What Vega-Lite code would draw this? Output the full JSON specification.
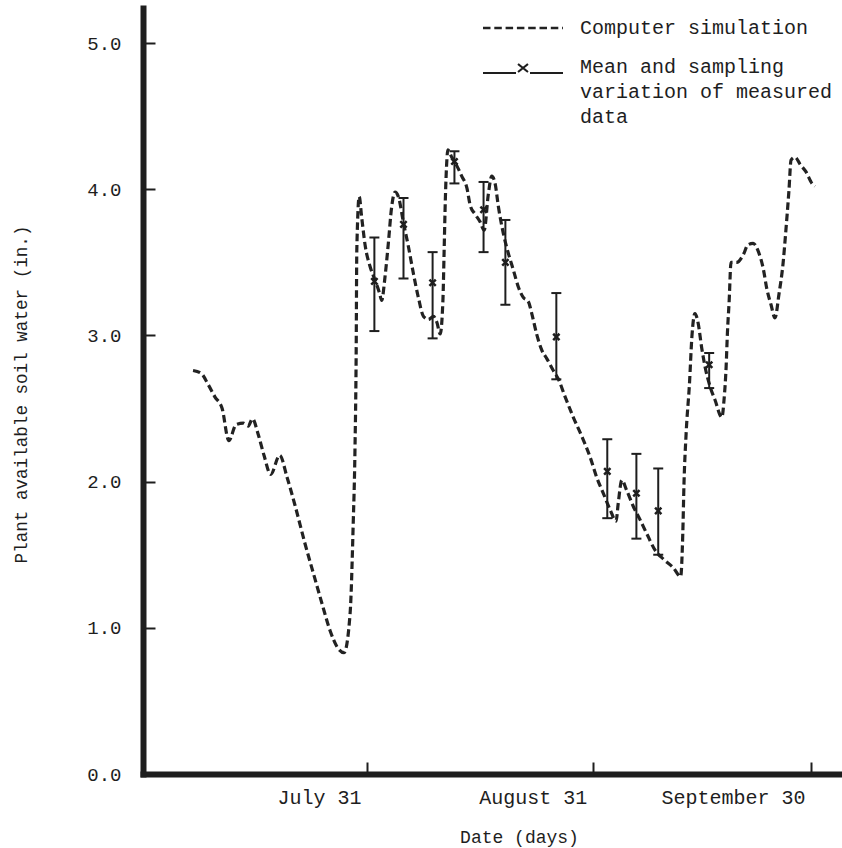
{
  "$schema": "https://vega.github.io/schema/vega-lite/v6.json",
  "width": 699,
  "height": 766,
  "autosize": {"type": "none"},
  "padding": {"left": 143, "top": 8, "right": 0, "bottom": 74},
  "background": "white",
  "config": {
    "view": {"stroke": null},
    "font": "Liberation Mono",
    "style": {"guide-label": {"lineHeight": 25}},
    "axis": {
      "grid": false,
      "domainColor": "#1e1e1e",
      "domainWidth": 6,
      "domainCap": "square",
      "tickColor": "#1e1e1e",
      "tickWidth": 2,
      "tickSize": -12,
      "labelFont": "Liberation Mono",
      "labelColor": "#1e1e1e",
      "titleFont": "Liberation Mono",
      "titleColor": "#1e1e1e",
      "titleFontWeight": "normal"
    },
    "legend": {
      "orient": "none",
      "padding": 0,
      "offset": 0,
      "symbolSize": 100,
      "labelFont": "Liberation Mono",
      "labelFontSize": 20,
      "labelColor": "#1e1e1e",
      "labelLimit": 0,
      "labelOffset": 47
    }
  },
  "resolve": {"scale": {"strokeDash": "independent"}, "legend": {"strokeDash": "independent"}},
  "datasets": {
    "sim": [
      {"date": "2023-07-07T02:00Z", "water": 2.76, "series": "Computer simulation"},
      {"date": "2023-07-08T05:00Z", "water": 2.74, "series": "Computer simulation"},
      {"date": "2023-07-09T05:00Z", "water": 2.66, "series": "Computer simulation"},
      {"date": "2023-07-10T02:00Z", "water": 2.58, "series": "Computer simulation"},
      {"date": "2023-07-11T02:00Z", "water": 2.50, "series": "Computer simulation"},
      {"date": "2023-07-12T00:00Z", "water": 2.28, "series": "Computer simulation"},
      {"date": "2023-07-13T00:00Z", "water": 2.39, "series": "Computer simulation"},
      {"date": "2023-07-14T00:00Z", "water": 2.40, "series": "Computer simulation"},
      {"date": "2023-07-14T16:00Z", "water": 2.38, "series": "Computer simulation"},
      {"date": "2023-07-15T06:00Z", "water": 2.43, "series": "Computer simulation"},
      {"date": "2023-07-16T00:00Z", "water": 2.33, "series": "Computer simulation"},
      {"date": "2023-07-16T20:00Z", "water": 2.18, "series": "Computer simulation"},
      {"date": "2023-07-17T18:00Z", "water": 2.05, "series": "Computer simulation"},
      {"date": "2023-07-19T00:00Z", "water": 2.18, "series": "Computer simulation"},
      {"date": "2023-07-20T00:00Z", "water": 2.03, "series": "Computer simulation"},
      {"date": "2023-07-21T02:00Z", "water": 1.84, "series": "Computer simulation"},
      {"date": "2023-07-22T12:00Z", "water": 1.57, "series": "Computer simulation"},
      {"date": "2023-07-23T18:00Z", "water": 1.35, "series": "Computer simulation"},
      {"date": "2023-07-24T20:00Z", "water": 1.16, "series": "Computer simulation"},
      {"date": "2023-07-25T22:00Z", "water": 0.98, "series": "Computer simulation"},
      {"date": "2023-07-27T00:00Z", "water": 0.86, "series": "Computer simulation"},
      {"date": "2023-07-27T20:00Z", "water": 0.83, "series": "Computer simulation"},
      {"date": "2023-07-28T16:00Z", "water": 1.10, "series": "Computer simulation"},
      {"date": "2023-07-29T02:00Z", "water": 1.70, "series": "Computer simulation"},
      {"date": "2023-07-29T08:00Z", "water": 2.22, "series": "Computer simulation"},
      {"date": "2023-07-29T12:00Z", "water": 2.90, "series": "Computer simulation"},
      {"date": "2023-07-29T14:00Z", "water": 3.58, "series": "Computer simulation"},
      {"date": "2023-07-29T22:00Z", "water": 3.95, "series": "Computer simulation"},
      {"date": "2023-07-30T06:00Z", "water": 3.81, "series": "Computer simulation"},
      {"date": "2023-07-30T18:00Z", "water": 3.61, "series": "Computer simulation"},
      {"date": "2023-07-31T10:00Z", "water": 3.47, "series": "Computer simulation"},
      {"date": "2023-08-01T02:00Z", "water": 3.38, "series": "Computer simulation"},
      {"date": "2023-08-01T17:00Z", "water": 3.29, "series": "Computer simulation"},
      {"date": "2023-08-02T00:00Z", "water": 3.24, "series": "Computer simulation"},
      {"date": "2023-08-02T11:00Z", "water": 3.40, "series": "Computer simulation"},
      {"date": "2023-08-02T22:00Z", "water": 3.63, "series": "Computer simulation"},
      {"date": "2023-08-03T09:00Z", "water": 3.88, "series": "Computer simulation"},
      {"date": "2023-08-03T20:00Z", "water": 3.98, "series": "Computer simulation"},
      {"date": "2023-08-04T07:00Z", "water": 3.95, "series": "Computer simulation"},
      {"date": "2023-08-05T00:00Z", "water": 3.77, "series": "Computer simulation"},
      {"date": "2023-08-05T16:00Z", "water": 3.61, "series": "Computer simulation"},
      {"date": "2023-08-06T09:00Z", "water": 3.42, "series": "Computer simulation"},
      {"date": "2023-08-07T01:00Z", "water": 3.26, "series": "Computer simulation"},
      {"date": "2023-08-07T18:00Z", "water": 3.13, "series": "Computer simulation"},
      {"date": "2023-08-08T10:00Z", "water": 3.11, "series": "Computer simulation"},
      {"date": "2023-08-09T03:00Z", "water": 3.13, "series": "Computer simulation"},
      {"date": "2023-08-09T14:00Z", "water": 3.09, "series": "Computer simulation"},
      {"date": "2023-08-10T01:00Z", "water": 3.01, "series": "Computer simulation"},
      {"date": "2023-08-10T10:00Z", "water": 3.24, "series": "Computer simulation"},
      {"date": "2023-08-10T14:00Z", "water": 3.58, "series": "Computer simulation"},
      {"date": "2023-08-10T18:00Z", "water": 3.93, "series": "Computer simulation"},
      {"date": "2023-08-10T23:00Z", "water": 4.20, "series": "Computer simulation"},
      {"date": "2023-08-11T02:00Z", "water": 4.27, "series": "Computer simulation"},
      {"date": "2023-08-11T15:00Z", "water": 4.22, "series": "Computer simulation"},
      {"date": "2023-08-12T08:00Z", "water": 4.16, "series": "Computer simulation"},
      {"date": "2023-08-13T00:00Z", "water": 4.09, "series": "Computer simulation"},
      {"date": "2023-08-13T17:00Z", "water": 4.01, "series": "Computer simulation"},
      {"date": "2023-08-14T04:00Z", "water": 3.89, "series": "Computer simulation"},
      {"date": "2023-08-14T20:00Z", "water": 3.83, "series": "Computer simulation"},
      {"date": "2023-08-15T12:00Z", "water": 3.78, "series": "Computer simulation"},
      {"date": "2023-08-16T02:00Z", "water": 3.72, "series": "Computer simulation"},
      {"date": "2023-08-16T16:00Z", "water": 3.97, "series": "Computer simulation"},
      {"date": "2023-08-17T03:00Z", "water": 4.09, "series": "Computer simulation"},
      {"date": "2023-08-17T14:00Z", "water": 4.04, "series": "Computer simulation"},
      {"date": "2023-08-18T01:00Z", "water": 3.88, "series": "Computer simulation"},
      {"date": "2023-08-18T17:00Z", "water": 3.70, "series": "Computer simulation"},
      {"date": "2023-08-19T10:00Z", "water": 3.56, "series": "Computer simulation"},
      {"date": "2023-08-20T02:00Z", "water": 3.45, "series": "Computer simulation"},
      {"date": "2023-08-20T19:00Z", "water": 3.33, "series": "Computer simulation"},
      {"date": "2023-08-21T11:00Z", "water": 3.26, "series": "Computer simulation"},
      {"date": "2023-08-22T04:00Z", "water": 3.23, "series": "Computer simulation"},
      {"date": "2023-08-22T15:00Z", "water": 3.15, "series": "Computer simulation"},
      {"date": "2023-08-23T07:00Z", "water": 3.01, "series": "Computer simulation"},
      {"date": "2023-08-24T00:00Z", "water": 2.90, "series": "Computer simulation"},
      {"date": "2023-08-24T17:00Z", "water": 2.84, "series": "Computer simulation"},
      {"date": "2023-08-25T14:00Z", "water": 2.76, "series": "Computer simulation"},
      {"date": "2023-08-26T07:00Z", "water": 2.70, "series": "Computer simulation"},
      {"date": "2023-08-27T05:00Z", "water": 2.58, "series": "Computer simulation"},
      {"date": "2023-08-28T08:00Z", "water": 2.44, "series": "Computer simulation"},
      {"date": "2023-08-29T12:00Z", "water": 2.31, "series": "Computer simulation"},
      {"date": "2023-08-30T15:00Z", "water": 2.17, "series": "Computer simulation"},
      {"date": "2023-08-31T13:00Z", "water": 2.03, "series": "Computer simulation"},
      {"date": "2023-09-01T11:00Z", "water": 1.92, "series": "Computer simulation"},
      {"date": "2023-09-02T09:00Z", "water": 1.81, "series": "Computer simulation"},
      {"date": "2023-09-03T05:00Z", "water": 1.73, "series": "Computer simulation"},
      {"date": "2023-09-03T12:00Z", "water": 1.85, "series": "Computer simulation"},
      {"date": "2023-09-04T00:00Z", "water": 2.01, "series": "Computer simulation"},
      {"date": "2023-09-04T16:00Z", "water": 1.94, "series": "Computer simulation"},
      {"date": "2023-09-05T14:00Z", "water": 1.83, "series": "Computer simulation"},
      {"date": "2023-09-06T12:00Z", "water": 1.74, "series": "Computer simulation"},
      {"date": "2023-09-07T10:00Z", "water": 1.645, "series": "Computer simulation"},
      {"date": "2023-09-08T14:00Z", "water": 1.53, "series": "Computer simulation"},
      {"date": "2023-09-09T17:00Z", "water": 1.47, "series": "Computer simulation"},
      {"date": "2023-09-11T02:00Z", "water": 1.41, "series": "Computer simulation"},
      {"date": "2023-09-12T02:00Z", "water": 1.35, "series": "Computer simulation"},
      {"date": "2023-09-12T09:00Z", "water": 1.645, "series": "Computer simulation"},
      {"date": "2023-09-12T13:00Z", "water": 1.99, "series": "Computer simulation"},
      {"date": "2023-09-12T20:00Z", "water": 2.33, "series": "Computer simulation"},
      {"date": "2023-09-13T07:00Z", "water": 2.67, "series": "Computer simulation"},
      {"date": "2023-09-13T15:00Z", "water": 2.99, "series": "Computer simulation"},
      {"date": "2023-09-14T01:00Z", "water": 3.15, "series": "Computer simulation"},
      {"date": "2023-09-14T12:00Z", "water": 3.08, "series": "Computer simulation"},
      {"date": "2023-09-14T23:00Z", "water": 2.92, "series": "Computer simulation"},
      {"date": "2023-09-15T10:00Z", "water": 2.79, "series": "Computer simulation"},
      {"date": "2023-09-16T03:00Z", "water": 2.65, "series": "Computer simulation"},
      {"date": "2023-09-16T19:00Z", "water": 2.56, "series": "Computer simulation"},
      {"date": "2023-09-17T18:00Z", "water": 2.44, "series": "Computer simulation"},
      {"date": "2023-09-18T01:00Z", "water": 2.56, "series": "Computer simulation"},
      {"date": "2023-09-18T08:00Z", "water": 2.79, "series": "Computer simulation"},
      {"date": "2023-09-18T12:00Z", "water": 3.01, "series": "Computer simulation"},
      {"date": "2023-09-18T18:00Z", "water": 3.24, "series": "Computer simulation"},
      {"date": "2023-09-19T00:00Z", "water": 3.50, "series": "Computer simulation"},
      {"date": "2023-09-19T19:00Z", "water": 3.50, "series": "Computer simulation"},
      {"date": "2023-09-20T16:00Z", "water": 3.55, "series": "Computer simulation"},
      {"date": "2023-09-21T08:00Z", "water": 3.62, "series": "Computer simulation"},
      {"date": "2023-09-22T01:00Z", "water": 3.63, "series": "Computer simulation"},
      {"date": "2023-09-22T17:00Z", "water": 3.58, "series": "Computer simulation"},
      {"date": "2023-09-23T10:00Z", "water": 3.46, "series": "Computer simulation"},
      {"date": "2023-09-23T23:00Z", "water": 3.31, "series": "Computer simulation"},
      {"date": "2023-09-24T12:00Z", "water": 3.21, "series": "Computer simulation"},
      {"date": "2023-09-25T01:00Z", "water": 3.12, "series": "Computer simulation"},
      {"date": "2023-09-25T14:00Z", "water": 3.28, "series": "Computer simulation"},
      {"date": "2023-09-26T04:00Z", "water": 3.50, "series": "Computer simulation"},
      {"date": "2023-09-26T13:00Z", "water": 3.72, "series": "Computer simulation"},
      {"date": "2023-09-26T23:00Z", "water": 3.99, "series": "Computer simulation"},
      {"date": "2023-09-27T06:00Z", "water": 4.20, "series": "Computer simulation"},
      {"date": "2023-09-27T19:00Z", "water": 4.22, "series": "Computer simulation"},
      {"date": "2023-09-28T12:00Z", "water": 4.17, "series": "Computer simulation"},
      {"date": "2023-09-29T07:00Z", "water": 4.12, "series": "Computer simulation"},
      {"date": "2023-09-30T03:00Z", "water": 4.04, "series": "Computer simulation"},
      {"date": "2023-09-30T13:00Z", "water": 4.02, "series": "Computer simulation"}
    ],
    "measured": [
      {"date": "2023-08-01", "lo": 3.03, "mean": 3.37, "hi": 3.67, "series": "Mean and sampling variation of measured data"},
      {"date": "2023-08-05", "lo": 3.39, "mean": 3.76, "hi": 3.94, "series": "Mean and sampling variation of measured data"},
      {"date": "2023-08-09", "lo": 2.98, "mean": 3.36, "hi": 3.57, "series": "Mean and sampling variation of measured data"},
      {"date": "2023-08-12", "lo": 4.04, "mean": 4.19, "hi": 4.26, "series": "Mean and sampling variation of measured data"},
      {"date": "2023-08-16", "lo": 3.57, "mean": 3.86, "hi": 4.05, "series": "Mean and sampling variation of measured data"},
      {"date": "2023-08-19", "lo": 3.21, "mean": 3.50, "hi": 3.79, "series": "Mean and sampling variation of measured data"},
      {"date": "2023-08-26", "lo": 2.70, "mean": 2.99, "hi": 3.29, "series": "Mean and sampling variation of measured data"},
      {"date": "2023-09-02", "lo": 1.75, "mean": 2.07, "hi": 2.29, "series": "Mean and sampling variation of measured data"},
      {"date": "2023-09-06", "lo": 1.61, "mean": 1.92, "hi": 2.19, "series": "Mean and sampling variation of measured data"},
      {"date": "2023-09-09", "lo": 1.50, "mean": 1.80, "hi": 2.09, "series": "Mean and sampling variation of measured data"},
      {"date": "2023-09-16", "lo": 2.64, "mean": 2.80, "hi": 2.88, "series": "Mean and sampling variation of measured data"}
    ]
  },
  "encoding": {
    "x": {
      "field": "date",
      "type": "temporal",
      "scale": {
        "type": "utc",
        "domain": [
          {"year": 2023, "month": 6, "date": 30, "hours": 5, "utc": true},
          {"year": 2023, "month": 10, "date": 4, "hours": 6, "utc": true}
        ]
      },
      "axis": {
        "title": "Date (days)",
        "values": [
          {"year": 2023, "month": 7, "date": 31, "utc": true},
          {"year": 2023, "month": 8, "date": 31, "utc": true},
          {"year": 2023, "month": 9, "date": 30, "utc": true}
        ],
        "labelExpr": "utcFormat(datum.value, '%B %d')",
        "labelFontSize": 20,
        "labelAlign": "right",
        "labelBaseline": "alphabetic",
        "labelOffset": -6,
        "labelPadding": 41,
        "labelFlush": false,
        "labelOverlap": false,
        "titleFontSize": 18,
        "titleX": 376,
        "titleY": 68,
        "titleAlign": "center",
        "titleBaseline": "alphabetic"
      }
    }
  },
  "layer": [
    {
      "data": {"name": "sim"},
      "mark": {"type": "line", "interpolate": "monotone", "strokeWidth": 3.2, "color": "#222"},
      "encoding": {
        "y": {
          "field": "water",
          "type": "quantitative",
          "scale": {"domain": [0, 5.24], "nice": false, "zero": true},
          "axis": {
            "title": "Plant available soil water (in.)",
            "values": [0, 1, 2, 3, 4, 5],
            "format": ".1f",
            "labelFontSize": 19,
            "labelPadding": 34,
            "titleFontSize": 17.6,
            "titleX": -122,
            "titleY": 386,
            "titleAngle": -90,
            "titleAlign": "center",
            "titleBaseline": "middle"
          }
        },
        "strokeDash": {
          "field": "series",
          "type": "nominal",
          "scale": {"domain": ["Computer simulation"], "range": [[7.5, 3.8]]},
          "legend": {
            "legendX": 370,
            "legendY": 10,
            "title": null,
            "symbolType": "M-8,0H8",
            "symbolStrokeWidth": 2.5
          }
        }
      }
    },
    {
      "data": {"name": "measured"},
      "mark": {"type": "rule", "strokeWidth": 2, "color": "#1e1e1e"},
      "encoding": {
        "y": {"field": "lo", "type": "quantitative"},
        "y2": {"field": "hi"},
        "strokeDash": {
          "field": "series",
          "type": "nominal",
          "scale": {"domain": ["Mean and sampling variation of measured data"], "range": [[1, 0]]},
          "legend": {
            "legendX": 370,
            "legendY": 49,
            "title": null,
            "symbolType": "M-8,1.2H-1.4M1.4,1.2H8M-1,-0.6L1,1M1,-0.6L-1,1",
            "symbolStrokeWidth": 2,
            "labelExpr": "['Mean and sampling', 'variation of measured', 'data']"
          }
        }
      }
    },
    {
      "data": {"name": "measured"},
      "mark": {"type": "tick", "orient": "horizontal", "size": 10, "thickness": 2, "color": "#1e1e1e", "opacity": 1},
      "encoding": {
        "y": {"field": "hi", "type": "quantitative"}
      }
    },
    {
      "data": {"name": "measured"},
      "mark": {"type": "tick", "orient": "horizontal", "size": 10, "thickness": 2, "color": "#1e1e1e", "opacity": 1},
      "encoding": {
        "y": {"field": "lo", "type": "quantitative"}
      }
    },
    {
      "data": {"name": "measured"},
      "mark": {"type": "point", "shape": "M-1,-1L1,1M1,-1L-1,1", "filled": false, "size": 40, "strokeWidth": 2.5, "color": "#1e1e1e", "opacity": 1},
      "encoding": {
        "y": {"field": "mean", "type": "quantitative"}
      }
    }
  ]
}
